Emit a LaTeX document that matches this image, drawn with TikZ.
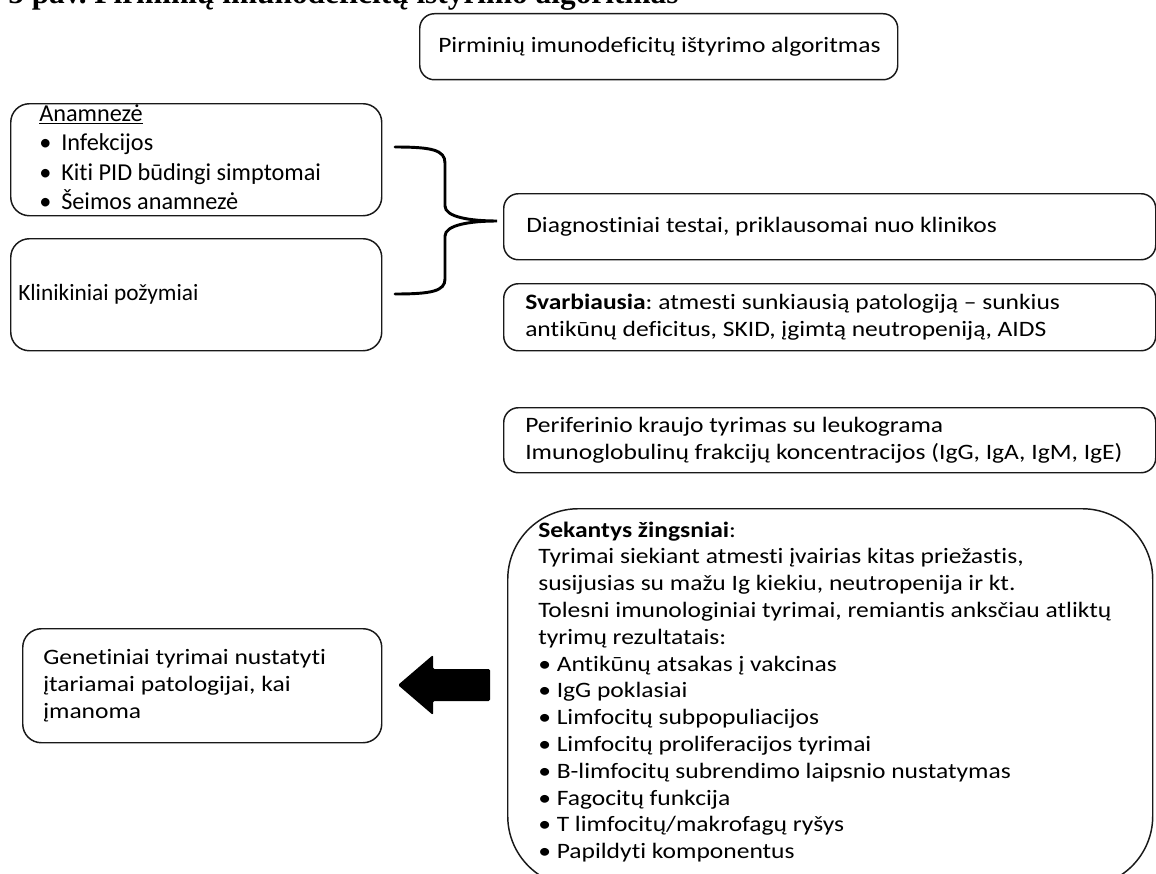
\documentclass[tikz,border=0pt]{standalone}
\usepackage{graphicx}
\usepackage{fontspec}
\setmainfont{Carlito}[Ligatures=NoCommon]
\newfontfamily\titlefont{Liberation Serif}
\frenchspacing
\newlength\pxu
\setlength\pxu{0.75pt}
\newcommand\hs[2]{\scalebox{#1}[1]{\begin{tabular}{@{}l@{}}#2\end{tabular}}}
\newcommand\bul{\makebox[22\pxu][l]{•}}
\tikzset{
  box/.style={draw=black!90, line width=1.1pt, rounded corners=11pt, anchor=north west, inner sep=0pt},
  lbox/.style={box, rounded corners=14pt},
  txt/.style={anchor=west, inner sep=0pt},
  rfont/.style={font=\fontsize{16.5}{20.25}\selectfont},
}
\begin{document}
\begin{tikzpicture}[x=0.75pt, y=-0.75pt]
\useasboundingbox (0,0) rectangle (1156,874);
\clip (0,0) rectangle (1156,874);
\fill[white] (0,0) rectangle (1156,874);

% title (cut at top)
\node[anchor=base west, inner sep=0pt, font=\titlefont\bfseries\fontsize{23.5}{26}\selectfont] (title) at (8,4) {5 pav. Pirminių imunodeficitų ištyrimo algoritmas};

% top box
\node[box, minimum width=478\pxu, minimum height=66\pxu] (top) at (419,13) {};
\node[txt, rfont, xshift=19\pxu] (toptext) at (top.west) {\hs{1.16}{Pirminių imunodeficitų ištyrimo algoritmas}};

% left boxes
\node[lbox, minimum width=371\pxu, minimum height=112\pxu] (anam) at (10,103) {};
\node[txt, font=\fontsize{18.2}{22}\selectfont, xshift=29\pxu] (anamtext) at (anam.west)
 {\hs{1}{\underline{Anamnezė}\\
  \bul Infekcijos\\
  \bul Kiti PID būdingi simptomai\\
  \bul Šeimos anamnezė}};
\node[lbox, minimum width=371\pxu, minimum height=112\pxu] (klin) at (10,238) {};
\node[txt, font=\fontsize{17.5}{20}\selectfont, xshift=8\pxu] (klintext) at (klin.west) {\hs{1}{Klinikiniai požymiai}};

% brace
\coordinate (bt) at (395,147);
\coordinate (bb) at (395,294);
\coordinate (btip) at (497,221);
\draw[line width=2.2pt, line cap=round] (bt) .. controls (432,147) and (445,150) .. (445,163) -- (445,206)
  .. controls (445,217) and (470,221) .. (btip)
  .. controls (470,221) and (445,225) .. (445,236) -- (445,279)
  .. controls (445,291) and (432,294) .. (bb);

% right boxes
\node[box, minimum width=652\pxu, minimum height=66\pxu] (diag) at (503,193) {};
\node[txt, rfont, xshift=23\pxu] (diagtext) at (diag.west) {\hs{1.16}{Diagnostiniai testai, priklausomai nuo klinikos}};

\node[box, minimum width=652\pxu, minimum height=67\pxu] (svarb) at (503,283) {};
\node[txt, rfont, xshift=22\pxu] (svarbtext) at (svarb.west)
 {\hs{1.16}{\textbf{Svarbiausia}: atmesti sunkiausią patologiją – sunkius\\antikūnų deficitus, SKID, įgimtą neutropeniją, AIDS}};

\node[box, minimum width=652\pxu, minimum height=65\pxu] (perif) at (503,407) {};
\node[txt, rfont, xshift=22\pxu] (perittext) at (perif.west)
 {\hs{1.16}{Periferinio kraujo tyrimas su leukograma\\Imunoglobulinų frakcijų koncentracijos (IgG, IgA, IgM, IgE)}};

% big box
\node[draw=black!90, line width=1.1pt, rounded corners=53pt, anchor=north west, minimum width=645\pxu, minimum height=378\pxu, inner sep=0pt] (big) at (507,508) {};
\node[anchor=north west, inner sep=0pt, font=\fontsize{16.5}{20.1}\selectfont] (bigtext) at (538,518)
 {\hs{1.16}{\textbf{Sekantys žingsniai}:\\
  Tyrimai siekiant atmesti įvairias kitas priežastis,\\
  susijusias su mažu Ig kiekiu, neutropenija ir kt.\\
  Tolesni imunologiniai tyrimai, remiantis anksčiau atliktų\\
  tyrimų rezultatais:\\
  • Antikūnų atsakas į vakcinas\\
  • IgG poklasiai\\
  • Limfocitų subpopuliacijos\\
  • Limfocitų proliferacijos tyrimai\\
  • B-limfocitų subrendimo laipsnio nustatymas\\
  • Fagocitų funkcija\\
  • T limfocitų/makrofagų ryšys\\
  • Papildyti komponentus}};

% genetic box
\node[lbox, minimum width=359\pxu, minimum height=114\pxu] (gen) at (22,628) {};
\node[txt, rfont, xshift=21\pxu] (gentext) at (gen.west)
 {\hs{1.16}{Genetiniai tyrimai nustatyti\\įtariamai patologijai, kai\\įmanoma}};

% block arrow from big box to genetic box
\coordinate (atip) at (398,685);
\fill[black, rounded corners=1pt] (atip) -- ++(35,-30) -- ++(0,14) -- ++(57,0) -- ++(0,32) -- ++(-57,0) -- ++(0,14) -- cycle;
\end{tikzpicture}
\end{document}
